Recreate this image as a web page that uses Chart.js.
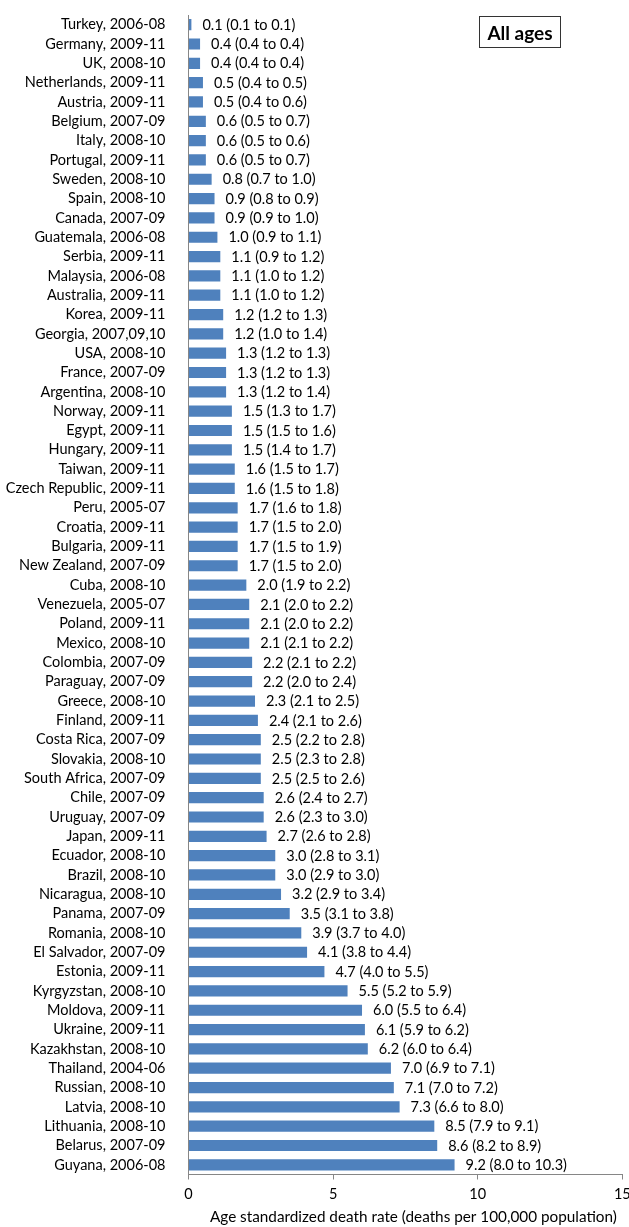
<!DOCTYPE html>
<html><head><meta charset="utf-8">
<script src="https://cdn.jsdelivr.net/npm/chart.js@4"></script>
<style>
html,body{margin:0;padding:0;background:#fff;}
#wrap{position:relative;width:629px;height:1227px;}
#tag{position:absolute;left:479px;top:16px;width:82px;height:32px;box-sizing:border-box;border:1.5px solid #333;font:bold 19px Lato;display:flex;align-items:center;justify-content:center;color:#000;}
</style></head><body>
<div id="wrap"><canvas id="c" width="629" height="1227"></canvas><div id="tag">All ages</div></div>
<script>
const categories = [
 "Turkey, 2006-08","Germany, 2009-11","UK, 2008-10","Netherlands, 2009-11","Austria, 2009-11",
 "Belgium, 2007-09","Italy, 2008-10","Portugal, 2009-11","Sweden, 2008-10","Spain, 2008-10",
 "Canada, 2007-09","Guatemala, 2006-08","Serbia, 2009-11","Malaysia, 2006-08","Australia, 2009-11",
 "Korea, 2009-11","Georgia, 2007,09,10","USA, 2008-10","France, 2007-09","Argentina, 2008-10",
 "Norway, 2009-11","Egypt, 2009-11","Hungary, 2009-11","Taiwan, 2009-11","Czech Republic, 2009-11",
 "Peru, 2005-07","Croatia, 2009-11","Bulgaria, 2009-11","New Zealand, 2007-09","Cuba, 2008-10",
 "Venezuela, 2005-07","Poland, 2009-11","Mexico, 2008-10","Colombia, 2007-09","Paraguay, 2007-09",
 "Greece, 2008-10","Finland, 2009-11","Costa Rica, 2007-09","Slovakia, 2008-10","South Africa, 2007-09",
 "Chile, 2007-09","Uruguay, 2007-09","Japan, 2009-11","Ecuador, 2008-10","Brazil, 2008-10",
 "Nicaragua, 2008-10","Panama, 2007-09","Romania, 2008-10","El Salvador, 2007-09","Estonia, 2009-11",
 "Kyrgyzstan, 2008-10","Moldova, 2009-11","Ukraine, 2009-11","Kazakhstan, 2008-10","Thailand, 2004-06",
 "Russian, 2008-10","Latvia, 2008-10","Lithuania, 2008-10","Belarus, 2007-09","Guyana, 2006-08"
];
const rates = [
 0.1,0.4,0.4,0.5,0.5, 0.6,0.6,0.6,0.8,0.9, 0.9,1.0,1.1,1.1,1.1, 1.2,1.2,1.3,1.3,1.3,
 1.5,1.5,1.5,1.6,1.6, 1.7,1.7,1.7,1.7,2.0, 2.1,2.1,2.1,2.2,2.2, 2.3,2.4,2.5,2.5,2.5,
 2.6,2.6,2.7,3.0,3.0, 3.2,3.5,3.9,4.1,4.7, 5.5,6.0,6.1,6.2,7.0, 7.1,7.3,8.5,8.6,9.2
];
const lower = [
 0.1,0.4,0.4,0.4,0.4, 0.5,0.5,0.5,0.7,0.8, 0.9,0.9,0.9,1.0,1.0, 1.2,1.0,1.2,1.2,1.2,
 1.3,1.5,1.4,1.5,1.5, 1.6,1.5,1.5,1.5,1.9, 2.0,2.0,2.1,2.1,2.0, 2.1,2.1,2.2,2.3,2.5,
 2.4,2.3,2.6,2.8,2.9, 2.9,3.1,3.7,3.8,4.0, 5.2,5.5,5.9,6.0,6.9, 7.0,6.6,7.9,8.2,8.0
];
const upper = [
 0.1,0.4,0.4,0.5,0.6, 0.7,0.6,0.7,1.0,0.9, 1.0,1.1,1.2,1.2,1.2, 1.3,1.4,1.3,1.3,1.4,
 1.7,1.6,1.7,1.7,1.8, 1.8,2.0,1.9,2.0,2.2, 2.2,2.2,2.2,2.2,2.4, 2.5,2.6,2.8,2.8,2.6,
 2.7,3.0,2.8,3.1,3.0, 3.4,3.8,4.0,4.4,5.5, 5.9,6.4,6.2,6.4,7.1, 7.2,8.0,9.1,8.9,10.3
];
const xTicks = [0,5,10,15];
const axisTitle = "Age standardized death rate (deaths per 100,000 population)";

const FONT_SIZE = 14.5;
Chart.defaults.font.family = 'Lato';
Chart.defaults.color = '#000';

const valueLabels = {
  id: 'valueLabels',
  afterDraw(chart) {
    const ctx = chart.ctx;
    const meta = chart.getDatasetMeta(0);
    ctx.save();
    ctx.font = FONT_SIZE + 'px Lato';
    ctx.fillStyle = '#000';
    ctx.textBaseline = 'middle';
    ctx.textAlign = 'left';
    meta.data.forEach((bar, i) => {
      const txt = rates[i].toFixed(1) + ' (' + lower[i].toFixed(1) + ' to ' + upper[i].toFixed(1) + ')';
      ctx.fillText(txt, bar.x + 11, bar.y + 0.5);
    });
    // axis title, centred slightly right of the plot centre as in the original
    const ca = chart.chartArea;
    ctx.font = '15.3px Lato';
    ctx.textAlign = 'center';
    ctx.textBaseline = 'alphabetic';
    ctx.fillText(axisTitle, (ca.left + ca.right) / 2 + 8, chart.height - 5);
    ctx.restore();
  }
};

new Chart(document.getElementById('c'), {
  type: 'bar',
  data: {
    labels: categories,
    datasets: [{
      data: rates,
      backgroundColor: '#4F81BD',
      borderWidth: 0,
      categoryPercentage: 1,
      barPercentage: 0.58
    }]
  },
  options: {
    indexAxis: 'y',
    responsive: false,
    animation: false,
    devicePixelRatio: 1,
    layout: { padding: { top: 15, left: 0, right: 0, bottom: 0 } },
    plugins: { legend: { display: false }, tooltip: { enabled: false } },
    scales: {
      y: {
        type: 'category',
        grid: { display: false },
        border: { display: true, color: '#868686', width: 1 },
        ticks: { autoSkip: false, padding: 15, font: { size: FONT_SIZE }, color: '#000' },
        afterFit(s) { s.width = 188.5; s.paddingTop = 0; s.paddingBottom = 0; }
      },
      x: {
        type: 'linear',
        min: 0, max: 15,
        afterBuildTicks(s) { s.ticks = xTicks.map(v => ({ value: v })); },
        grid: { drawOnChartArea: false, drawTicks: true, tickLength: 5, color: '#868686' },
        border: { display: true, color: '#868686', width: 1 },
        ticks: { padding: 6, font: { size: FONT_SIZE }, color: '#000', maxRotation: 0 },
        title: { display: false },
        afterFit(s) { s.height = 52.5; s.paddingLeft = 0; s.paddingRight = 6.7; }
      }
    }
  },
  plugins: [valueLabels]
});
</script>
</body></html>
